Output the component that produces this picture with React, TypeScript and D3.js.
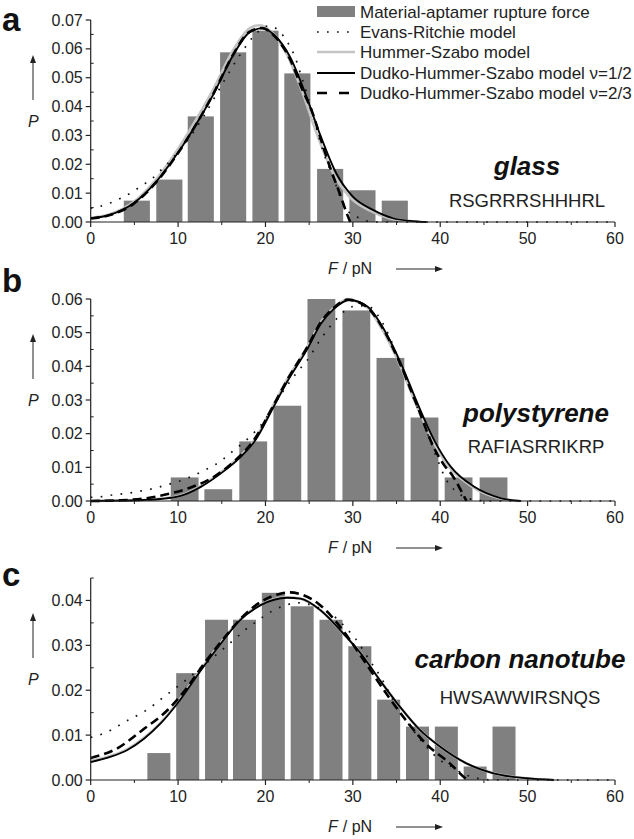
import React from 'react';
import * as d3 from 'd3';

type Pt = [number, number];

// ---------- shared axis data ----------
const xTicks = [0, 10, 20, 30, 40, 50, 60];
const xMinorTicks = [5, 15, 25, 35, 45, 55];

// ---------- panel a: glass ----------
const yTicksA = [0, 0.01, 0.02, 0.03, 0.04, 0.05, 0.06, 0.07];
const barCentersA = [5.28, 9.0, 12.6, 16.3, 20.0, 23.65, 27.4, 31.1, 34.8];
const barValuesA = [0.0074, 0.0147, 0.0366, 0.0588, 0.0663, 0.0515, 0.0184, 0.011, 0.0074];
const binWidthA = 3.69;
const evansA: Pt[] = [[0, 0.0048], [1.17, 0.0055], [2.4, 0.0068], [3.5, 0.0083], [4.7, 0.0103], [5.85, 0.0126], [7.05, 0.0151], [8.15, 0.0183], [9.3, 0.0218], [10.4, 0.0257], [11.4, 0.0296], [13, 0.037], [15, 0.0475], [17, 0.0575], [19, 0.0655], [20.4, 0.068], [21.8, 0.0654], [22.6, 0.0619], [23.3, 0.0578], [24, 0.0515], [25.3, 0.0388], [26.6, 0.0244], [27.8, 0.0151], [28.7, 0.0076], [29.5, 0.0036], [30.8, 0.0013], [31.7, 0.0003], [33, 0], [60, 0]];
const hummerA: Pt[] = [[0, 0.0014], [2.2, 0.0027], [4.9, 0.0069], [7.5, 0.0148], [9.4, 0.0226], [11.7, 0.0336], [14, 0.0458], [16.3, 0.0595], [18.2, 0.0672], [19.4, 0.0682], [20.8, 0.0655], [22.5, 0.0578], [24.3, 0.0443], [25.8, 0.0312], [27.7, 0.0172], [29.6, 0.0088], [31.9, 0.004], [34.2, 0.0013], [36.2, 0.0004], [38, 0]];
const dhsHalfA: Pt[] = [[0, 0.0013], [2.2, 0.0025], [4.9, 0.0065], [7.5, 0.014], [9.4, 0.0215], [11.7, 0.032], [14, 0.044], [16.3, 0.0578], [18.2, 0.0658], [19.7, 0.0672], [21, 0.0648], [22.8, 0.0573], [24.7, 0.0434], [26.2, 0.0307], [28.1, 0.0169], [30, 0.0088], [32.3, 0.0042], [34.6, 0.0013], [36.5, 0.0004], [38.4, 0]];
const dhsTwoThirdsA: Pt[] = [[0, 0.0012], [2.2, 0.0024], [4.9, 0.0063], [7.5, 0.0138], [9.4, 0.0213], [11.7, 0.032], [14, 0.0442], [16.3, 0.058], [18.2, 0.066], [19.6, 0.0672], [21, 0.0645], [22.8, 0.0565], [24.2, 0.046], [25.4, 0.0377], [26.6, 0.0261], [27.5, 0.018], [28.5, 0.0099], [29.3, 0.003], [29.7, 0]];

// ---------- panel b: polystyrene ----------
const yTicksB = [0, 0.01, 0.02, 0.03, 0.04, 0.05, 0.06];
const barCentersB = [10.75, 14.6, 18.6, 22.5, 26.4, 30.4, 34.3, 38.2, 42.1, 46.1];
const barValuesB = [0.007, 0.0035, 0.0177, 0.0283, 0.06, 0.0566, 0.0425, 0.0248, 0.007, 0.007];
const binWidthB = 3.93;
const evansB: Pt[] = [[0, 0.0011], [1.3, 0.0013], [2.5, 0.0018], [3.6, 0.0021], [4.75, 0.0025], [6, 0.0031], [7.15, 0.0037], [8.3, 0.0045], [9.5, 0.0054], [10.7, 0.0064], [11.8, 0.0076], [12.9, 0.009], [14.2, 0.0107], [15.3, 0.0127], [16.4, 0.0151], [17.6, 0.0176], [19.9, 0.024], [21.6, 0.031], [23.7, 0.0385], [24.8, 0.0419], [26.3, 0.048], [28.1, 0.054], [29.3, 0.0569], [30.5, 0.058], [31.7, 0.0579], [32.8, 0.0554], [34.1, 0.0493], [35.5, 0.0401], [36.8, 0.0315], [38.4, 0.0211], [39.7, 0.0122], [40.6, 0.0067], [41.6, 0.0033], [42.7, 0.0013], [44, 0.0003], [45.5, 0], [60, 0]];
const hummerB: Pt[] = [[0, 0], [3, 0.0001], [6, 0.0003], [8, 0.0007], [10.3, 0.0016], [12.6, 0.0044], [14.9, 0.0085], [17.2, 0.0136], [18.7, 0.018], [21, 0.029], [22.5, 0.0362], [24.8, 0.0458], [26.3, 0.053], [27.8, 0.0574], [29.4, 0.0598], [31.5, 0.0578], [33.4, 0.0508], [35.3, 0.0409], [37.2, 0.029], [39.1, 0.0181], [41, 0.0102], [43.7, 0.0042], [46.8, 0.0008], [49, 0]];
const dhsHalfB: Pt[] = [[0, 0], [3, 0.0001], [6, 0.0003], [8, 0.0006], [10.3, 0.0015], [12.6, 0.0042], [14.9, 0.0082], [17.2, 0.0132], [18.7, 0.0175], [21, 0.0283], [22.5, 0.0355], [24.8, 0.0452], [26.3, 0.0525], [27.8, 0.057], [29.6, 0.0597], [31.7, 0.0577], [33.6, 0.0508], [35.5, 0.0409], [37.4, 0.029], [39.3, 0.0181], [41.2, 0.0102], [43.9, 0.0042], [47, 0.0008], [49.2, 0]];
const dhsTwoThirdsB: Pt[] = [[0, 0], [3.4, 0.0002], [6, 0.0007], [8.7, 0.002], [11.2, 0.0038], [14.1, 0.0072], [16.4, 0.0117], [18.7, 0.0182], [21, 0.0288], [22.5, 0.036], [24.8, 0.0458], [26.3, 0.053], [27.8, 0.0574], [29.4, 0.0598], [31.5, 0.0578], [33.6, 0.0505], [35.5, 0.0402], [37.4, 0.028], [39.3, 0.0157], [40.5, 0.0105], [41.4, 0.0076], [42.2, 0.004], [43, 0]];

// ---------- panel c: carbon nanotube ----------
const yTicksC = [0, 0.01, 0.02, 0.03, 0.04];
const barCentersC = [7.8, 11.1, 14.4, 17.6, 20.9, 24.2, 27.5, 30.8, 34.1, 37.4, 40.7, 44.0, 47.3];
const barValuesC = [0.006, 0.0238, 0.0357, 0.0357, 0.0417, 0.0387, 0.0357, 0.0298, 0.0179, 0.0119, 0.0119, 0.003, 0.0119];
const binWidthC = 3.29;
const evansC: Pt[] = [[0, 0.0095], [1.25, 0.0102], [2.5, 0.0113], [3.6, 0.0126], [4.85, 0.0139], [6, 0.0151], [7.2, 0.0167], [8.3, 0.0184], [9.45, 0.0201], [10.6, 0.0218], [11.8, 0.0237], [13.5, 0.0265], [15.4, 0.0296], [16.6, 0.0316], [17.7, 0.0335], [18.9, 0.0352], [20, 0.0367], [21.1, 0.038], [22.3, 0.0389], [23.5, 0.0395], [24.8, 0.0392], [26.5, 0.038], [28.2, 0.0359], [29.3, 0.0337], [30.3, 0.0315], [31.8, 0.027], [33.3, 0.0226], [35, 0.0163], [36.9, 0.0111], [38.5, 0.0072], [40, 0.0044], [41.3, 0.003], [42.5, 0.0015], [43.6, 0.0007], [44.8, 0.0002], [46, 0], [60, 0]];
const hummerC: Pt[] = [[0, 0.0042], [2.3, 0.0054], [4.2, 0.0069], [6.1, 0.0094], [8, 0.0128], [9.9, 0.0172], [12.6, 0.0246], [14.9, 0.0306], [17.1, 0.0358], [19.4, 0.039], [22.3, 0.0407], [24, 0.0404], [26.3, 0.0378], [28.6, 0.0333], [30.9, 0.0282], [33.1, 0.0222], [35.4, 0.0163], [37.7, 0.0111], [40, 0.0074], [43, 0.0037], [46.1, 0.0015], [49.9, 0.0004], [53, 0]];
const dhsHalfC: Pt[] = [[0, 0.004], [2.3, 0.0052], [4.2, 0.0067], [6.1, 0.0092], [8, 0.0126], [9.9, 0.017], [12.6, 0.0244], [14.9, 0.0304], [17.1, 0.0356], [19.4, 0.0389], [22.5, 0.0406], [24, 0.0404], [26.3, 0.0378], [28.6, 0.0333], [30.9, 0.0282], [33.1, 0.0222], [35.4, 0.0163], [37.7, 0.0111], [40, 0.0074], [43, 0.0037], [46.1, 0.0015], [49.9, 0.0004], [53, 0]];
const dhsTwoThirdsC: Pt[] = [[0, 0.0049], [3, 0.007], [5.9, 0.0111], [8.8, 0.0156], [11, 0.0205], [13, 0.026], [15, 0.031], [17.1, 0.0358], [19.4, 0.0396], [21.5, 0.0414], [22.8, 0.0418], [24.3, 0.0412], [26.3, 0.0389], [28.6, 0.034], [31, 0.0274], [34.1, 0.0185], [36.2, 0.013], [38.5, 0.0078], [41.1, 0.0037], [41.9, 0.0022], [42.8, 0.0005], [43.2, 0]];

// ---------- text ----------
const legendLabels = [
  'Material-aptamer rupture force',
  'Evans-Ritchie model',
  'Hummer-Szabo model',
  'Dudko-Hummer-Szabo model \u03BD=1/2',
  'Dudko-Hummer-Szabo model \u03BD=2/3',
];
const FONT = "Arial, 'Liberation Sans', Helvetica, sans-serif";
const BAR_COLOR = '#808080';
const HS_COLOR = '#c4c4c4';

const X0 = 90.7;
const X1 = 615;

interface PanelProps {
  letter: string;
  material: string;
  sequence: string;
  top: number;
  bottom: number;
  yMax: number;
  yTicks: number[];
  centers: number[];
  values: number[];
  binWidth: number;
  barFrac: number;
  evans: Pt[];
  hummer: Pt[];
  half: Pt[];
  twoThirds: Pt[];
  letterY: number;
  matX: number;
  matY: number;
  seqY: number;
}

function Arrow({ x1, y1, x2, y2 }: { x1: number; y1: number; x2: number; y2: number }) {
  const ang = Math.atan2(y2 - y1, x2 - x1);
  const L = 8, W = 3;
  const bx = x2 - L * Math.cos(ang), by = y2 - L * Math.sin(ang);
  const px = -Math.sin(ang) * W, py = Math.cos(ang) * W;
  return (
    <g>
      <line x1={x1} y1={y1} x2={bx} y2={by} stroke="#222" strokeWidth={1} />
      <path d={`M${x2},${y2}L${bx + px},${by + py}L${bx - px},${by - py}Z`} fill="#222" />
    </g>
  );
}

function Panel(p: PanelProps) {
  const x = d3.scaleLinear().domain([0, 60]).range([X0, X1]);
  const y = d3.scaleLinear().domain([0, p.yMax]).range([p.bottom, p.top]);
  const line = d3.line<Pt>().x(d => x(d[0])).y(d => y(d[1])).curve(d3.curveMonotoneX);
  const fmt = d3.format('.2f');
  const yMinor: number[] = [];
  for (let v = 0.005; v < p.yMax + 1e-9; v += 0.01) yMinor.push(v);
  const w = p.binWidth * p.barFrac;
  const midY = (p.top + p.bottom) / 2;
  return (
    <g>
      {/* bars */}
      {p.centers.map((c, i) => (
        <rect key={i} x={x(c - w / 2)} y={y(p.values[i])} width={x(c + w / 2) - x(c - w / 2)}
          height={y(0) - y(p.values[i])} fill={BAR_COLOR} />
      ))}
      {/* curves */}
      <path d={line(p.hummer) || ''} fill="none" stroke={HS_COLOR} strokeWidth={2.6} />
      <path d={line(p.evans) || ''} fill="none" stroke="#111" strokeWidth={1.7} strokeDasharray="1.7 8.3" />
      <path d={line(p.half) || ''} fill="none" stroke="#000" strokeWidth={1.8} />
      <path d={line(p.twoThirds) || ''} fill="none" stroke="#000" strokeWidth={2.6} strokeDasharray="9 5" />
      {/* y axis */}
      <line x1={X0} x2={X0} y1={p.top} y2={p.bottom} stroke="#222" strokeWidth={1.2} />
      {p.yTicks.map(t => (
        <g key={t}>
          <line x1={X0 - 5} x2={X0} y1={y(t)} y2={y(t)} stroke="#222" strokeWidth={1.2} />
          <text x={X0 - 8} y={y(t) + 5.5} textAnchor="end" fontSize={16} fontFamily={FONT} fill="#222">{fmt(t)}</text>
        </g>
      ))}
      {yMinor.map(t => (
        <line key={t} x1={X0} x2={X0 + 3} y1={y(t)} y2={y(t)} stroke="#222" strokeWidth={1} />
      ))}
      {/* x axis */}
      <line x1={X0} x2={X1} y1={p.bottom} y2={p.bottom} stroke="#222" strokeWidth={1.2} />
      {xTicks.map(t => (
        <g key={t}>
          <line x1={x(t)} x2={x(t)} y1={p.bottom} y2={p.bottom + 5} stroke="#222" strokeWidth={1.2} />
          <text x={x(t)} y={p.bottom + 22} textAnchor="middle" fontSize={16} fontFamily={FONT} fill="#222">{t}</text>
        </g>
      ))}
      {xMinorTicks.map(t => (
        <line key={t} x1={x(t)} x2={x(t)} y1={p.bottom} y2={p.bottom + 3} stroke="#222" strokeWidth={1} />
      ))}
      {/* axis titles */}
      <text x={28} y={midY + 6} fontSize={16} fontStyle="italic" fontFamily={FONT} fill="#222">P</text>
      <Arrow x1={33} y1={midY - 21} x2={33} y2={midY - 66} />
      <text x={328} y={p.bottom + 52} fontSize={16} fontFamily={FONT} fill="#222">
        <tspan fontStyle="italic">F</tspan>
        <tspan dx={5}>/ pN</tspan>
      </text>
      <Arrow x1={396} y1={p.bottom + 47} x2={443} y2={p.bottom + 47} />
      {/* panel letter */}
      <text x={2} y={p.letterY} fontSize={33} fontWeight="bold" fontFamily={FONT} fill="#111">{p.letter}</text>
      {/* material + sequence */}
      <text x={p.matX} y={p.matY} textAnchor="middle" fontSize={26} fontWeight="bold" fontStyle="italic" fontFamily={FONT} fill="#111">{p.material}</text>
      <text x={p.matX} y={p.seqY} textAnchor="middle" fontSize={18.5} fontFamily={FONT} fill="#222">{p.sequence}</text>
    </g>
  );
}

function Legend() {
  const x0 = 317, x1 = 355, tx = 360;
  const rows = [12, 32, 52, 73, 93];
  return (
    <g fontFamily={FONT} fontSize={17} fill="#222">
      <rect x={x0} y={rows[0] - 6} width={x1 - x0} height={11} fill={BAR_COLOR} />
      <line x1={x0} x2={x1} y1={rows[1]} y2={rows[1]} stroke="#111" strokeWidth={1.7} strokeDasharray="1.7 8.3" />
      <line x1={x0} x2={x1} y1={rows[2]} y2={rows[2]} stroke={HS_COLOR} strokeWidth={2.6} />
      <line x1={x0} x2={x1} y1={rows[3]} y2={rows[3]} stroke="#000" strokeWidth={1.8} />
      <line x1={x0} x2={x1} y1={rows[4]} y2={rows[4]} stroke="#000" strokeWidth={2.6} strokeDasharray="10 12" />
      {legendLabels.map((l, i) => (
        <text key={i} x={tx} y={rows[i] + 6}>{l}</text>
      ))}
    </g>
  );
}

export default function App() {
  return (
    <svg width={634} height={839} viewBox="0 0 634 839"
      style={{ position: 'absolute', left: 0, top: 0, background: '#fff' }}>
      <rect width={634} height={839} fill="#fff" />
      <Panel letter="a" material="glass" sequence="RSGRRRSHHHRL" top={20} bottom={222} yMax={0.07}
        yTicks={yTicksA} centers={barCentersA} values={barValuesA} binWidth={binWidthA} barFrac={0.81}
        evans={evansA} hummer={hummerA} half={dhsHalfA} twoThirds={dhsTwoThirdsA}
        letterY={31} matX={527} matY={175} seqY={207} />
      <Panel letter="b" material="polystyrene" sequence="RAFIASRRIKRP" top={299} bottom={501} yMax={0.06}
        yTicks={yTicksB} centers={barCentersB} values={barValuesB} binWidth={binWidthB} barFrac={0.81}
        evans={evansB} hummer={hummerB} half={dhsHalfB} twoThirds={dhsTwoThirdsB}
        letterY={292} matX={536} matY={422} seqY={453} />
      <Panel letter="c" material="carbon nanotube" sequence="HWSAWWIRSNQS" top={578} bottom={780} yMax={0.045}
        yTicks={yTicksC} centers={barCentersC} values={barValuesC} binWidth={binWidthC} barFrac={0.8}
        evans={evansC} hummer={hummerC} half={dhsHalfC} twoThirds={dhsTwoThirdsC}
        letterY={586} matX={520} matY={668} seqY={704} />
      <Legend />
    </svg>
  );
}
